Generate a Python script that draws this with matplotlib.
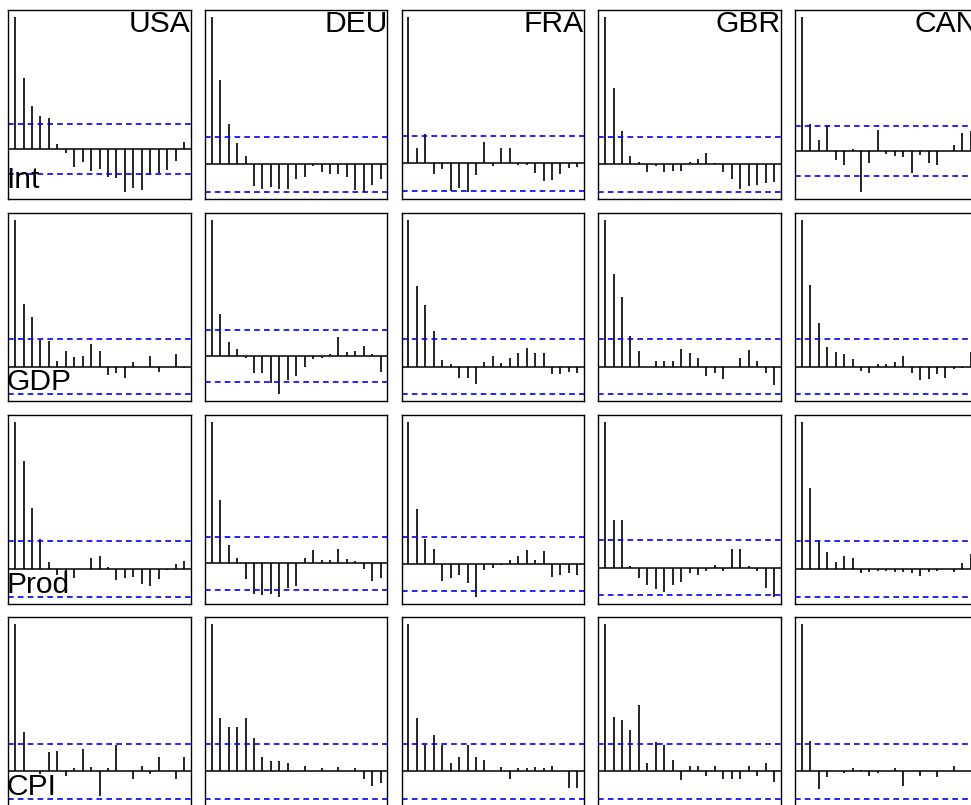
import matplotlib
matplotlib.use("Agg")
import matplotlib.pyplot as plt

# ------ data section ------
countries = ["USA", "DEU", "FRA", "GBR", "CAN"]
variables = ["Int", "GDP", "Prod", "CPI"]
lags = list(range(21))
conf = 0.188

int_usa = [1, 0.538, 0.331, 0.255, 0.235, 0.038, -0.03, -0.136, -0.10, -0.162, -0.152,
           -0.212, -0.22, -0.326, -0.295, -0.308, -0.194, -0.182, -0.157, -0.088, 0.058]
int_deu = [1, 0.577, 0.277, 0.145, 0.061, -0.143, -0.166, -0.155, -0.166, -0.17, -0.098,
           -0.082, -0.011, -0.048, -0.068, -0.068, -0.086, -0.177, -0.184, -0.139, -0.102]
int_fra = [1, 0.107, 0.203, -0.071, -0.039, -0.185, -0.169, -0.196, -0.082, 0.150, -0.016,
           0.103, 0.107, -0.007, -0.007, -0.066, -0.118, -0.116, -0.073, -0.032, -0.025]
int_gbr = [1, 0.520, 0.227, 0.057, 0.02, -0.052, -0.011, -0.052, -0.045, -0.041, 0.02,
           0.034, 0.075, 0.007, -0.048, -0.098, -0.166, -0.143, -0.139, -0.127, -0.116]
int_can = [1, 0.202, 0.082, 0.195, -0.072, -0.107, 0.012, -0.312, -0.095, 0.152, -0.022,
           -0.042, -0.05, -0.167, -0.035, -0.092, -0.112, 0.0, 0.04, 0.132, 0.145]

gdp_usa = [1, 0.427, 0.339, 0.184, 0.177, 0.039, 0.107, 0.066, 0.073, 0.155, 0.109,
           -0.057, -0.045, -0.073, 0.03, 0.0, 0.073, -0.034, 0.0, 0.084, -0.011]
gdp_deu = [1, 0.309, 0.103, 0.051, -0.017, -0.127, -0.127, -0.201, -0.282, -0.174, -0.147,
           -0.078, -0.025, -0.017, 0.015, 0.14, 0.029, 0.039, 0.074, 0.015, -0.115]
gdp_fra = [1, 0.552, 0.420, 0.245, 0.045, 0.016, -0.073, -0.073, -0.114, 0.034, 0.073,
           0.023, 0.057, 0.095, 0.125, 0.095, 0.095, -0.05, -0.052, -0.034, -0.045]
gdp_gbr = [1, 0.632, 0.473, 0.209, 0.109, 0.0, 0.039, 0.039, 0.036, 0.118, 0.091,
           0.057, -0.061, -0.045, -0.08, 0.0, 0.061, 0.111, 0.039, -0.041, -0.125]
gdp_can = [1, 0.555, 0.298, 0.132, 0.102, 0.084, 0.055, -0.027, -0.045, 0.016, 0.016,
           0.032, 0.073, -0.045, -0.091, -0.084, -0.05, -0.075, -0.016, -0.007, 0.102]

prod_usa = [1, 0.732, 0.414, 0.202, 0.045, -0.04, -0.064, -0.064, 0.0, 0.077, 0.086,
            0.014, -0.075, -0.059, -0.055, -0.102, -0.114, -0.068, -0.005, 0.034, 0.052]
prod_deu = [1, 0.446, 0.132, 0.035, -0.111, -0.217, -0.226, -0.217, -0.236, -0.175, -0.158,
            0.038, 0.092, 0.026, 0.021, 0.099, 0.033, 0.014, -0.038, -0.127, -0.106]
prod_fra = [1, 0.39, 0.18, 0.106, -0.12, -0.10, -0.08, -0.13, -0.23, -0.04, -0.03,
            -0.01, 0.03, 0.06, 0.10, 0.03, 0.09, -0.09, -0.08, -0.06, -0.08]
prod_gbr = [1, 0.33, 0.33, 0.01, -0.07, -0.12, -0.15, -0.17, -0.12, -0.10, -0.04,
            -0.05, -0.02, 0.02, -0.02, 0.13, 0.13, 0.01, -0.02, -0.14, -0.20]
prod_can = [1, 0.55, 0.20, 0.115, 0.05, 0.09, 0.075, -0.03, -0.02, -0.01, -0.01,
            -0.02, -0.02, -0.03, -0.05, -0.02, -0.01, 0.0, -0.02, 0.04, 0.10]

cpi_usa = [1, 0.27, 0.0, -0.02, 0.13, 0.14, -0.03, 0.02, 0.15, 0.03, -0.17,
           0.02, 0.18, 0.0, -0.05, 0.04, -0.02, 0.10, 0.0, -0.05, 0.10]
cpi_deu = [1, 0.36, 0.30, 0.30, 0.36, 0.23, 0.095, 0.07, 0.07, 0.06, 0.0,
           0.04, 0.0, 0.02, 0.0, 0.03, 0.0, 0.02, -0.05, -0.10, -0.08]
cpi_fra = [1, 0.36, 0.18, 0.245, 0.18, 0.055, 0.095, 0.18, 0.095, 0.08, 0.0,
           0.03, -0.05, 0.02, 0.02, 0.03, 0.02, 0.035, 0.0, -0.11, -0.11]
cpi_gbr = [1, 0.37, 0.35, 0.28, 0.45, 0.06, 0.20, 0.18, 0.075, -0.06, 0.035,
           0.035, -0.03, 0.035, -0.05, -0.05, -0.05, 0.035, -0.03, 0.06, -0.075]
cpi_can = [1, 0.21, -0.12, -0.035, 0.0, -0.01, 0.02, 0.01, -0.03, -0.01, 0.005,
           0.02, -0.10, 0.0, -0.03, 0.0, -0.035, 0.0, 0.04, 0.0, 0.005]

acf = {
    "Int": [int_usa, int_deu, int_fra, int_gbr, int_can],
    "GDP": [gdp_usa, gdp_deu, gdp_fra, gdp_gbr, gdp_can],
    "Prod": [prod_usa, prod_deu, prod_fra, prod_gbr, prod_can],
    "CPI": [cpi_usa, cpi_deu, cpi_fra, cpi_gbr, cpi_can],
}


# ------ main section ------
def main():
    W, H = 971, 805
    fig = plt.figure(figsize=(W / 100, H / 100), dpi=100)
    font = ["Liberation Sans", "DejaVu Sans"]

    for r, var in enumerate(variables):
        for c, country in enumerate(countries):
            left = 8.3 + 196.7 * c
            top = 10.5 + 202.3 * r
            w, h = 182.4, 188.6
            ax = fig.add_axes([left / W, 1 - (top + h) / H, w / W, h / H])
            vals = acf[var][c]

            ax.vlines(lags, 0, vals, color="black", lw=1.2)
            ax.axhline(0, color="black", lw=1.1)
            for y in (conf, -conf):
                ax.axhline(y, color="blue", lw=1.2, ls=(0, (3.4, 2.5)))

            lo = min(min(vals), -conf)
            pad = 0.04 * (1 - lo)
            ax.set_ylim(lo - pad, 1 + pad)
            ax.set_xlim(-0.8, 20.8)
            ax.set_xticks([])
            ax.set_yticks([])
            for s in ax.spines.values():
                s.set_color("black")
                s.set_linewidth(1.0)

            if r == 0:
                ax.text(1.0, 1.0, country, transform=ax.transAxes, ha="right",
                        va="top", fontsize=21.6, family=font, clip_on=True)
            if c == 0:
                ax.annotate(var, xy=(0, 0), xycoords="axes fraction",
                            xytext=(-2, 11), textcoords="offset pixels",
                            ha="left", va="baseline", fontsize=21.6, family=font)

    fig.savefig("out.png", dpi=100)


# ------ execution section ------
if __name__ == "__main__":
    main()
